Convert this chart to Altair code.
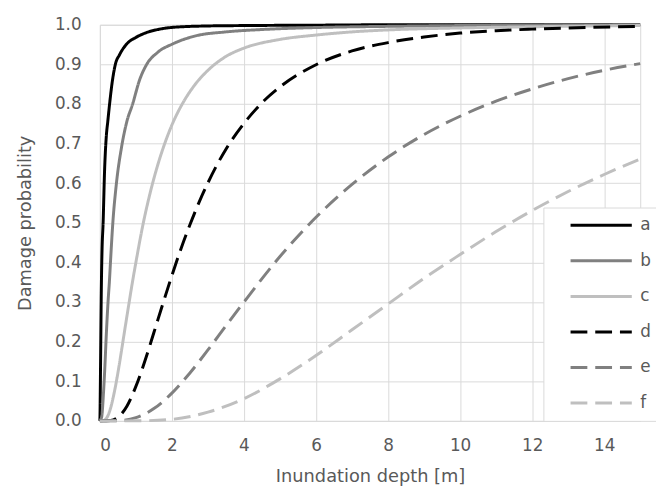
import altair as alt
import pandas as pd

# ---- data ----
curves = ["a", "b", "c", "d", "e", "f"]

a_x = [0, 0.005, 0.01, 0.02, 0.04, 0.06, 0.09, 0.13, 0.18, 0.22, 0.27, 0.35, 0.43, 0.55, 0.75, 1.0, 1.2, 1.66, 2.1, 3, 4, 6, 8, 10, 15]
a_y = [0, 0.02, 0.06, 0.15, 0.33, 0.43, 0.5, 0.63, 0.72, 0.756, 0.8, 0.86, 0.9, 0.925, 0.952, 0.968, 0.977, 0.989, 0.994, 0.997, 0.998, 0.999, 1.0, 1.0, 1.0]

b_x = [0, 0.05, 0.1, 0.13, 0.18, 0.22, 0.27, 0.3, 0.36, 0.46, 0.6, 0.75, 0.91, 1.1, 1.3, 1.6, 2.03, 2.66, 3.5, 4.5, 6, 8, 10, 12, 15]
b_y = [0, 0.01, 0.07, 0.12, 0.22, 0.29, 0.36, 0.41, 0.5, 0.6, 0.69, 0.756, 0.8, 0.86, 0.9, 0.93, 0.952, 0.972, 0.982, 0.988, 0.993, 0.996, 0.998, 0.999, 1.0]

c_x = [0, 0.1, 0.2, 0.3, 0.4, 0.5, 0.6, 0.7, 0.8, 0.9, 1.0, 1.2, 1.4, 1.6, 1.8, 2.0, 2.3, 2.6, 3.0, 3.5, 4, 5, 6, 7, 8, 10, 12, 15]
c_y = [0, 0.001, 0.009, 0.033, 0.072, 0.121, 0.177, 0.235, 0.292, 0.348, 0.40, 0.497, 0.577, 0.644, 0.70, 0.747, 0.802, 0.844, 0.885, 0.92, 0.941, 0.963, 0.974, 0.982, 0.987, 0.992, 0.995, 0.998]

d_x = [0, 0.3, 0.5, 0.75, 1.0, 1.25, 1.5, 1.75, 2.0, 2.25, 2.5, 2.75, 3.0, 3.5, 4.0, 4.5, 5.0, 6, 7, 8, 9, 10, 11, 12, 13, 15]
d_y = [0, 0.001, 0.009, 0.037, 0.087, 0.151, 0.223, 0.296, 0.367, 0.434, 0.495, 0.551, 0.601, 0.686, 0.751, 0.803, 0.843, 0.899, 0.934, 0.955, 0.969, 0.979, 0.985, 0.989, 0.992, 0.996]

e_x = [0, 0.5, 1, 1.5, 2, 2.5, 3, 3.5, 4, 5, 6, 7, 8, 9, 10, 11, 12, 13, 14, 15]
e_y = [0, 0.0004, 0.008, 0.031, 0.07, 0.121, 0.179, 0.24, 0.30, 0.415, 0.514, 0.597, 0.666, 0.723, 0.769, 0.807, 0.838, 0.864, 0.885, 0.902]

f_x = [0, 1, 2, 3, 4, 5, 6, 7, 8, 9, 10, 11, 12, 13, 14, 15]
f_y = [0, 0.0001, 0.004, 0.022, 0.056, 0.106, 0.165, 0.23, 0.295, 0.36, 0.42, 0.478, 0.531, 0.579, 0.622, 0.661]

x_ticks = [0, 2, 4, 6, 8, 10, 12, 14]
y_ticks = [0.0, 0.1, 0.2, 0.3, 0.4, 0.5, 0.6, 0.7, 0.8, 0.9, 1.0]

colors = ["#000000", "#808080", "#bfbfbf", "#000000", "#808080", "#bfbfbf"]
dashes = [[1, 0], [1, 0], [1, 0], [17, 8], [17, 8], [17, 8]]

xs = [a_x, b_x, c_x, d_x, e_x, f_x]
ys = [a_y, b_y, c_y, d_y, e_y, f_y]
rows = []
for name, xv, yv in zip(curves, xs, ys):
    for i, (x, y) in enumerate(zip(xv, yv)):
        rows.append({"depth": x, "prob": y, "curve": name, "order": i})
df = pd.DataFrame(rows)

FONT = "DejaVu Sans"
TXT = "#595959"
GRID = "#d9d9d9"

legend = alt.Legend(
    title=None,
    orient="none",
    legendX=449,
    legendY=185,
    fillColor="white",
    strokeColor=GRID,
    padding=9,
    symbolType="stroke",
    symbolSize=3844,
    symbolStrokeWidth=3,
    clipHeight=18,
    rowPadding=18,
    symbolOffset=17,
    labelOffset=7,
    labelFont=FONT,
    labelFontSize=17,
    labelColor=TXT,
)

chart = (
    alt.Chart(df)
    .mark_line(strokeWidth=3, interpolate="monotone")
    .encode(
        x=alt.X(
            "depth:Q",
            scale=alt.Scale(domain=[0, 15], nice=False),
            axis=alt.Axis(
                values=x_ticks,
                title="Inundation depth [m]",
                ticks=False,
                tickSize=0,
                domain=False,
                labelPadding=17,
                titlePadding=14,
            ),
        ),
        y=alt.Y(
            "prob:Q",
            scale=alt.Scale(domain=[0, 1], nice=False),
            axis=alt.Axis(
                values=y_ticks,
                format=".1f",
                title="Damage probability",
                ticks=False,
                tickSize=0,
                domain=False,
                labelPadding=19,
                titlePadding=20,
            ),
        ),
        color=alt.Color("curve:N", scale=alt.Scale(domain=curves, range=colors), legend=legend),
        strokeDash=alt.StrokeDash("curve:N", scale=alt.Scale(domain=curves, range=dashes), legend=legend),
        order="order:Q",
    )
    .properties(
        width=547,
        height=401,
        padding={"left": 93, "top": 14, "right": 16, "bottom": 67},
        autosize=alt.AutoSizeParams(type="none"),
    )
    .configure_view(stroke=GRID, strokeWidth=1)
    .configure_axis(
        gridColor=GRID,
        gridWidth=1,
        labelFont=FONT,
        labelFontSize=17,
        labelColor=TXT,
        titleFont=FONT,
        titleFontSize=18,
        titleFontWeight="normal",
        titleColor=TXT,
    )
)

chart.save("out.html", embed_options={"renderer": "svg", "actions": False})
